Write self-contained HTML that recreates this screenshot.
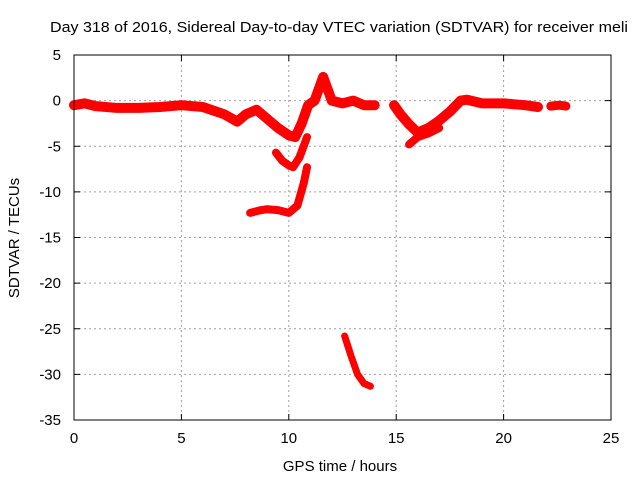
<!DOCTYPE html>
<html><head><meta charset="utf-8"><style>
body{margin:0;background:#fff}
svg{display:block;font-family:"Liberation Sans",sans-serif}
</style></head><body>
<svg id="chart" width="640" height="480">
<rect width="640" height="480" fill="#fff"/>
<text x="339" y="32" font-size="15" textLength="578" lengthAdjust="spacingAndGlyphs" text-anchor="middle">Day 318 of 2016, Sidereal Day-to-day VTEC variation (SDTVAR) for receiver meli</text>
<g id="grid"></g>
<g id="ticks"></g>
<g id="series"></g>
<rect x="74" y="55" width="537" height="365" fill="none" stroke="#000" stroke-width="1"/>
<text x="340" y="471" font-size="15" text-anchor="middle">GPS time / hours</text>
<text transform="translate(19,238) rotate(-90)" font-size="15" text-anchor="middle">SDTVAR / TECUs</text>
</svg>
<script>
const xTicks=[0,5,10,15,20,25];
const yTicks=[5,0,-5,-10,-15,-20,-25,-30,-35];
const segMainHours=[0,0.5,1,2,3,4,5,6,7,7.6,8,8.5,9,9.5,10,10.3,10.6,10.9,11.2,11.6,12,12.5,13,13.5,14];
const segMainValues=[-0.5,-0.3,-0.6,-0.8,-0.8,-0.7,-0.5,-0.7,-1.5,-2.3,-1.5,-1.0,-2.0,-3.0,-3.8,-4.0,-2.5,-0.5,0,2.6,0,-0.3,0,-0.5,-0.5];
const segHookHours=[9.4,9.7,10.0,10.2,10.5,10.85];
const segHookValues=[-5.7,-6.6,-7.1,-7.3,-6.2,-4.0];
const segLowHours=[8.2,8.7,9.0,9.5,10.0,10.4,10.7,10.85];
const segLowValues=[-12.3,-12.0,-11.9,-12.0,-12.3,-11.5,-9.0,-7.3];
const segDeepHours=[12.6,12.9,13.2,13.5,13.8];
const segDeepValues=[-25.8,-28.0,-30.0,-31.0,-31.3];
const segEveHours=[14.9,15.2,15.6,16.0,16.5,17.0,17.5,18.0,18.3,19,20,21,21.6];
const segEveValues=[-0.5,-1.5,-2.6,-3.5,-3.0,-2.2,-1.2,0,0.1,-0.3,-0.3,-0.5,-0.7];
const segBranchHours=[15.6,16.0,16.5,17.0];
const segBranchValues=[-4.8,-4.0,-3.6,-3.0];
const segLateHours=[22.2,22.6,22.9];
const segLateValues=[-0.6,-0.5,-0.6];

const X0=74,X1=611,Y0=420,Y1=55;
const xs=h=>X0+(h-0)/(25-0)*(X1-X0);
const ys=v=>Y0-(v+35)/(40)*(Y0-Y1);
const NS="http://www.w3.org/2000/svg";
const grid=document.getElementById('grid'),ticks=document.getElementById('ticks'),series=document.getElementById('series');
function mk(t,a,p){const e=document.createElementNS(NS,t);for(const k in a)e.setAttribute(k,a[k]);p.appendChild(e);return e;}
xTicks.forEach(t=>{
  const x=xs(t);
  if(t>0&&t<25){const g=mk('line',{x1:x,x2:x,y1:Y1,y2:Y0,stroke:'#a0a0a0','stroke-dasharray':'2,3'},grid);
  
  }
  mk('line',{x1:x,x2:x,y1:Y0,y2:Y0-6,stroke:'#000'},ticks);
  mk('line',{x1:x,x2:x,y1:Y1,y2:Y1+6,stroke:'#000'},ticks);
  const l=mk('text',{x:x,y:Y0+23,'font-size':15,'text-anchor':'middle'},ticks);l.textContent=t;
  
  
});
yTicks.forEach(t=>{
  const y=ys(t);
  if(t>-35&&t<5){const g=mk('line',{x1:X0,x2:X1,y1:y,y2:y,stroke:'#a0a0a0','stroke-dasharray':'2,3'},grid);
  
  }
  mk('line',{x1:X0,x2:X0+6,y1:y,y2:y,stroke:'#000'},ticks);
  mk('line',{x1:X1,x2:X1-6,y1:y,y2:y,stroke:'#000'},ticks);
  const l=mk('text',{x:X0-13,y:y+5,'font-size':15,'text-anchor':'end'},ticks);l.textContent=t;
  
  
});
function seg(hs,vs,name,w){
  const p=mk('polyline',{points:hs.map((h,i)=>xs(h)+','+ys(vs[i])).join(' '),fill:'none',stroke:'#ff0000','stroke-width':w,'stroke-linejoin':'round','stroke-linecap':'round'},series);
  
  
}
seg(segMainHours,segMainValues,'series-main',10);
seg(segHookHours,segHookValues,'series-hook',8);
seg(segLowHours,segLowValues,'series-low',8);
seg(segDeepHours,segDeepValues,'series-deep',7);
seg(segEveHours,segEveValues,'series-evening',10);
seg(segBranchHours,segBranchValues,'series-branch',8);
seg(segLateHours,segLateValues,'series-late',9);
</script>
</body></html>
